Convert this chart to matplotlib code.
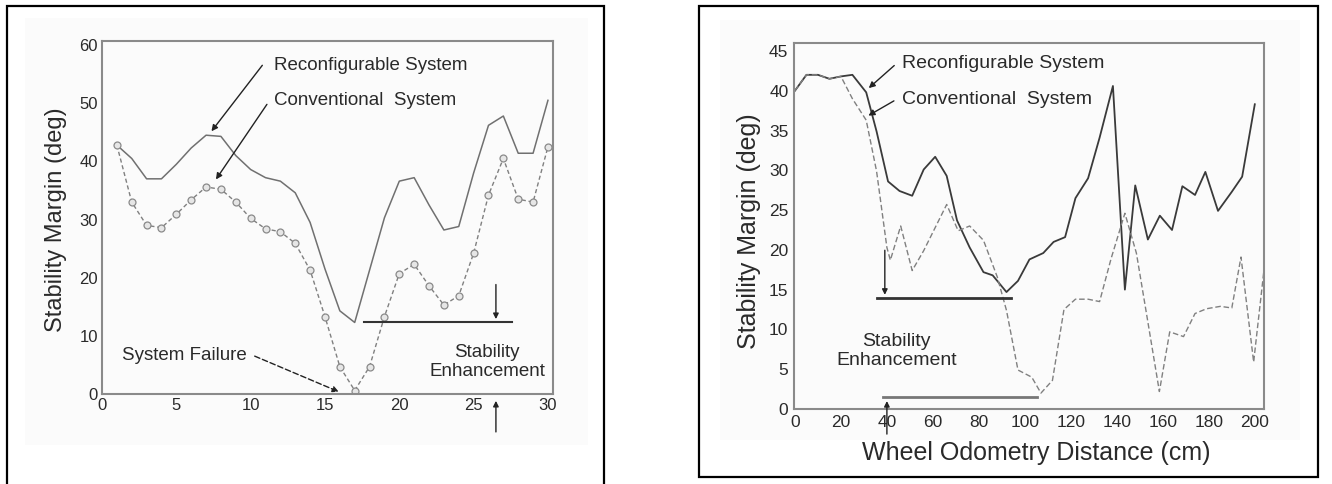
import numpy as np
import matplotlib.pyplot as plt
from matplotlib.patches import Rectangle

plt.rcParams['font.family'] = ['Liberation Sans', 'DejaVu Sans']

# left panel: stability margin vs step
steps = list(range(1, 31))
reconf_left = [42.8, 40.5, 37.0, 37.0, 39.5, 42.3, 44.5, 44.3, 41.0, 38.6,
               37.2, 36.6, 34.6, 29.5, 21.5, 14.3, 12.3, 21.3, 30.3, 36.6,
               37.2, 32.5, 28.2, 28.8, 38.0, 46.2, 47.8, 41.4, 41.4, 50.5]
conv_left = [42.8, 33.0, 29.0, 28.6, 30.9, 33.4, 35.6, 35.2, 33.0, 30.2,
             28.4, 27.9, 25.9, 21.3, 13.3, 4.7, 0.6, 4.7, 13.3, 20.7,
             22.3, 18.6, 15.3, 16.9, 24.2, 34.2, 40.5, 33.5, 33.0, 42.5]
left_xticks = [0, 5, 10, 15, 20, 25, 30]
left_yticks = [0, 10, 20, 30, 40, 50, 60]

# right panel: stability margin vs wheel odometry distance
reconf_x = [0, 5, 10, 15, 20, 25, 31, 35.5, 40.5, 45.5, 51, 56, 61, 66, 70.5,
            76, 82, 86, 92, 97, 102, 108, 112.5, 117.5, 122, 127.5, 132.5,
            138.3, 143.5, 148, 153.5, 158.7, 164, 168.5, 174, 178.5, 184,
            190, 194.5, 200]
reconf_y = [40, 42, 42, 41.5, 41.8, 42, 39.8, 34.9, 28.6, 27.4, 26.8, 30.1,
            31.7, 29.3, 23.7, 20.3, 17.2, 16.8, 14.7, 16.1, 18.8, 19.6, 21,
            21.6, 26.5, 29, 34.1, 40.6, 15, 28.1, 21.3, 24.3, 22.5, 28, 26.9,
            29.8, 24.9, 27.3, 29.2, 38.3]
conv_x = [0, 5, 10, 15, 20, 25, 31, 35.5, 40, 41.5, 46, 51, 56, 66, 71, 76,
          82, 88, 92, 97, 103, 107, 112, 117, 122, 127.5, 132.5, 137.5, 143.5,
          148.5, 153, 158.5, 163, 169, 174, 179, 185, 190, 194, 199.5, 204]
conv_y = [40, 42, 42, 41.5, 41.8, 39, 36.3, 29.9, 20.3, 18.7, 23, 17.4, 19.9,
          25.7, 22.4, 23, 21.2, 16.6, 12.4, 4.9, 4.0, 2.0, 3.6, 12.5, 13.8,
          13.8, 13.5, 18.9, 24.6, 19.6, 11.8, 2.2, 9.7, 9.1, 12, 12.6, 12.9,
          12.7, 19.1, 5.9, 17.5]
right_xticks = list(range(0, 201, 20))
right_yticks = list(range(0, 46, 5))

W, H = 1332, 484
fig = plt.figure(figsize=(W / 100, H / 100), dpi=100)

def fx(px):
    return px / W

def fy(py):
    return 1 - py / H

# panel frames and faint scan background
for x0, y0, x1, y1 in [(25, 18, 588, 445), (720, 20, 1300, 440)]:
    fig.patches.append(Rectangle((fx(x0), fy(y1)), fx(x1 - x0), fy(y0) - fy(y1),
                                 transform=fig.transFigure, facecolor='#fbfbfb',
                                 edgecolor='none', zorder=0.1))
for x0, y0, x1, y1 in [(7, 6, 604, 490), (699, 6, 1318, 477)]:
    fig.patches.append(Rectangle((fx(x0), fy(y1)), fx(x1 - x0), fy(y0) - fy(y1),
                                 transform=fig.transFigure, facecolor='none',
                                 edgecolor='black', lw=1.6, zorder=0.2))

txt = '#2a2a2a'
ann = dict(fontsize=13.5, color=txt)

# ---- left chart
ax1 = fig.add_axes([fx(102), fy(394), fx(451), fy(41) - fy(394)])
ax1.set_zorder(1)
ax1.patch.set_alpha(0)
ax1.plot(steps, reconf_left, '-', color='#707070', lw=1.1)
ax1.plot(steps, conv_left, '--', color='#808080', lw=1.0, dashes=(3, 2),
         marker='o', ms=5, mfc='#e6e6e6', mec='#8a8a8a', mew=0.9)
ax1.set_xlim(0, 30.34)
ax1.set_ylim(0, 60.7)
ax1.set_xticks(left_xticks)
ax1.set_yticks(left_yticks)
ax1.tick_params(length=0, labelsize=12, colors=txt, pad=3)
for s in ax1.spines.values():
    s.set_color('#8a8a8a')
    s.set_linewidth(1.5)

ax1.annotate('', xy=(7.25, 44.8), xytext=(10.9, 56.9),
             arrowprops=dict(arrowstyle='-|>', color='#222222', lw=1.0,
                             mutation_scale=9))
ax1.annotate('', xy=(7.56, 36.5), xytext=(11.2, 50.2),
             arrowprops=dict(arrowstyle='-|>', color='#222222', lw=1.0,
                             mutation_scale=9))
ax1.text(11.6, 56.5, 'Reconfigurable System', va='center', ha='left', **ann)
ax1.text(11.6, 50.5, 'Conventional  System', va='center', ha='left', **ann)
ax1.text(1.35, 6.7, 'System Failure', va='center', ha='left', **ann)
ax1.annotate('', xy=(16.1, 0.2), xytext=(10.1, 6.7),
             arrowprops=dict(arrowstyle='-|>', color='#222222', lw=1.0,
                             linestyle=(0, (4, 2)), mutation_scale=9))
ax1.plot([17.6, 27.6], [12.4, 12.4], color='#333333', lw=1.5)
ax1.annotate('', xy=(26.5, 12.4), xytext=(26.5, 19.3),
             arrowprops=dict(arrowstyle='-|>', color='#222222', lw=1.0,
                             mutation_scale=8))
ax1.annotate('', xy=(26.5, -0.7), xytext=(26.5, -7.0),
             arrowprops=dict(arrowstyle='-|>', color='#222222', lw=1.0,
                             mutation_scale=8), annotation_clip=False)
ax1.text(25.9, 5.45, 'Stability\nEnhancement', ha='center', va='center',
         linespacing=1.15, **ann)
fig.text(fx(56), fy(220), 'Stability Margin (deg)', rotation=90,
         ha='center', va='center', fontsize=17, color=txt)

# ---- right chart
ax2 = fig.add_axes([fx(794), fy(409), fx(470), fy(43) - fy(409)])
ax2.set_zorder(1)
ax2.patch.set_alpha(0)
ax2.plot(reconf_x, reconf_y, '-', color='#3a3a3a', lw=1.3)
ax2.plot(conv_x, conv_y, '--', color='#808080', lw=1.0, dashes=(4, 2))
ax2.set_xlim(-0.4, 204)
ax2.set_ylim(0, 46)
ax2.set_xticks(right_xticks)
ax2.set_yticks(right_yticks)
ax2.tick_params(length=0, labelsize=12.5, colors=txt, pad=4)
for s in ax2.spines.values():
    s.set_color('#8a8a8a')
    s.set_linewidth(1.5)

ax2.annotate('', xy=(31.2, 40.1), xytext=(44.1, 43.4),
             arrowprops=dict(arrowstyle='-|>', color='#222222', lw=1.0,
                             mutation_scale=9))
ax2.annotate('', xy=(30.9, 36.7), xytext=(44.1, 38.9),
             arrowprops=dict(arrowstyle='-|>', color='#222222', lw=1.0,
                             mutation_scale=9))
ax2.text(46.7, 43.4, 'Reconfigurable System', va='center', ha='left',
         fontsize=14, color=txt)
ax2.text(46.7, 38.9, 'Conventional  System', va='center', ha='left',
         fontsize=14, color=txt)
ax2.plot([35.5, 94.0], [14.0, 14.0], color='#333333', lw=2.0)
ax2.annotate('', xy=(39.1, 14.0), xytext=(39.1, 20.3),
             arrowprops=dict(arrowstyle='-|>', color='#222222', lw=1.0,
                             mutation_scale=8))
ax2.plot([38.2, 105.3], [1.55, 1.55], color='#777777', lw=2.0)
ax2.annotate('', xy=(40.0, 1.35), xytext=(40.0, -3.5),
             arrowprops=dict(arrowstyle='-|>', color='#222222', lw=1.0,
                             mutation_scale=8), annotation_clip=False)
ax2.text(44.1, 7.3, 'Stability\nEnhancement', ha='center', va='center',
         linespacing=1.15, fontsize=14, color=txt)
fig.text(fx(749), fy(231), 'Stability Margin (deg)', rotation=90,
         ha='center', va='center', fontsize=18, color=txt)
fig.text(fx(1036), fy(453), 'Wheel Odometry Distance (cm)', ha='center',
         va='center', fontsize=18, color=txt)

fig.savefig('out.png', dpi=100)
